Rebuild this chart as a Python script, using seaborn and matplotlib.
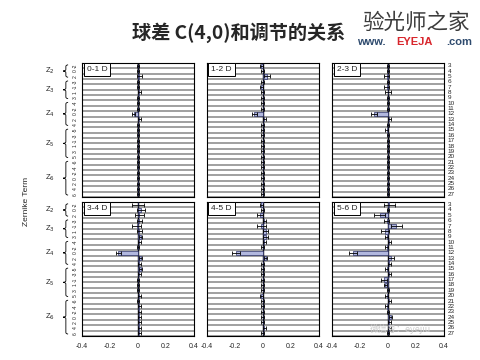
import matplotlib
matplotlib.use('Agg')
import matplotlib.pyplot as plt
from matplotlib.path import Path
from matplotlib.patches import PathPatch
import matplotlib.transforms as mtransforms
import seaborn as sns

# Zernike terms 3..27 (rows top to bottom)
terms = [str(t) for t in range(3, 28)]
m_values = ['-2', '0', '2',
            '-3', '-1', '1', '3',
            '-4', '-2', '0', '2', '4',
            '-5', '-3', '-1', '1', '3', '5',
            '-6', '-4', '-2', '0', '2', '4', '6']
orders = ['2', '3', '4', '5', '6']
order_rows = [(0, 2), (3, 6), (7, 11), (12, 17), (18, 24)]

panel_names = ['0-1 D', '1-2 D', '2-3 D', '3-4 D', '4-5 D', '5-6 D']

vals_01 = [0.00, 0.00, 0.01, 0.00, 0.00, 0.01, 0.00, 0.00, 0.00, -0.03, 0.01, 0.00, 0.00,
           0.00, 0.00, 0.00, 0.00, 0.00, 0.00, 0.00, 0.00, 0.00, 0.00, 0.00, 0.00]
errs_01 = [0.01, 0.01, 0.02, 0.01, 0.01, 0.01, 0.01, 0.01, 0.01, 0.01, 0.01, 0.01, 0.01,
           0.01, 0.01, 0.01, 0.01, 0.01, 0.01, 0.01, 0.01, 0.01, 0.01, 0.01, 0.01]
vals_12 = [-0.01, 0.00, 0.03, 0.00, -0.01, 0.00, 0.00, 0.00, 0.00, -0.06, 0.01, 0.00, 0.00,
           0.00, 0.00, 0.00, 0.00, 0.00, 0.00, 0.00, 0.00, 0.00, 0.00, 0.00, 0.00]
errs_12 = [0.01, 0.01, 0.02, 0.01, 0.01, 0.01, 0.01, 0.01, 0.01, 0.02, 0.01, 0.01, 0.01,
           0.01, 0.01, 0.01, 0.01, 0.01, 0.01, 0.01, 0.01, 0.01, 0.01, 0.01, 0.01]
vals_23 = [0.00, 0.00, -0.01, 0.00, -0.01, 0.00, 0.00, 0.00, 0.00, -0.10, 0.01, 0.00, -0.01,
           0.00, 0.00, 0.00, 0.00, 0.00, 0.00, 0.00, 0.00, 0.00, 0.00, 0.00, 0.00]
errs_23 = [0.01, 0.01, 0.02, 0.01, 0.02, 0.02, 0.01, 0.01, 0.01, 0.02, 0.01, 0.01, 0.01,
           0.01, 0.01, 0.01, 0.01, 0.01, 0.01, 0.01, 0.01, 0.01, 0.01, 0.01, 0.01]
vals_34 = [0.00, 0.02, 0.01, 0.01, -0.01, 0.01, 0.02, 0.01, 0.00, -0.14, 0.02, 0.01, 0.02,
           0.01, 0.00, 0.00, 0.00, 0.01, 0.00, 0.01, 0.01, 0.01, 0.01, 0.01, 0.01]
errs_34 = [0.04, 0.03, 0.035, 0.02, 0.03, 0.02, 0.01, 0.01, 0.01, 0.02, 0.01, 0.01, 0.01,
           0.01, 0.01, 0.01, 0.01, 0.01, 0.01, 0.01, 0.01, 0.01, 0.01, 0.01, 0.01]
vals_45 = [-0.01, 0.00, -0.02, 0.01, -0.01, 0.02, 0.02, 0.01, 0.00, -0.19, 0.02, 0.00, 0.00,
           0.00, 0.00, 0.00, 0.00, -0.01, 0.00, 0.00, 0.00, 0.00, 0.00, 0.01, 0.00]
errs_45 = [0.01, 0.01, 0.02, 0.01, 0.03, 0.02, 0.02, 0.01, 0.01, 0.03, 0.01, 0.01, 0.01,
           0.01, 0.01, 0.01, 0.01, 0.01, 0.01, 0.01, 0.01, 0.01, 0.01, 0.01, 0.01]
vals_56 = [0.01, 0.00, -0.06, -0.01, 0.06, -0.02, -0.01, 0.01, -0.01, -0.25, 0.02, 0.01, -0.01,
           0.01, -0.03, -0.02, 0.00, -0.01, 0.01, -0.01, 0.00, 0.02, 0.01, 0.01, 0.00]
errs_56 = [0.04, 0.01, 0.04, 0.02, 0.04, 0.03, 0.01, 0.01, 0.01, 0.03, 0.02, 0.01, 0.01,
           0.01, 0.02, 0.01, 0.01, 0.01, 0.01, 0.01, 0.01, 0.01, 0.01, 0.01, 0.01]

all_vals = [vals_01, vals_12, vals_23, vals_34, vals_45, vals_56]
all_errs = [errs_01, errs_12, errs_23, errs_34, errs_45, errs_56]

sns.set_style('white')
plt.rcParams['font.family'] = ['Liberation Sans', 'Noto Sans CJK SC', 'DejaVu Sans']

fig = plt.figure(figsize=(4.8, 3.6), dpi=100)

lefts = [0.171, 0.431, 0.692]
bottoms = [0.453, 0.067]
w, h = 0.233, 0.372

bar_color = '#aab3e6'
edge_color = '#2a2f66'


def draw_brace(ax, y0, y1):
    trans = mtransforms.blended_transform_factory(ax.transAxes, ax.transData)
    xr, xm, xl = -0.125, -0.145, -0.17
    ym = (y0 + y1) / 2.0
    d = 0.3
    verts = [(xr, y0), (xm, y0), (xm, y0 + d),
             (xm, ym - d), (xm, ym), (xl, ym),
             (xm, ym), (xm, ym + d),
             (xm, y1 - d), (xm, y1), (xr, y1)]
    codes = [Path.MOVETO, Path.CURVE3, Path.CURVE3,
             Path.LINETO, Path.CURVE3, Path.CURVE3,
             Path.CURVE3, Path.CURVE3,
             Path.LINETO, Path.CURVE3, Path.CURVE3]
    patch = PathPatch(Path(verts, codes), transform=trans, fill=False,
                      lw=0.6, color='black', clip_on=False)
    ax.add_patch(patch)


axes = []
for i in range(6):
    row, col = divmod(i, 3)
    ax = fig.add_axes([lefts[col], bottoms[row], w, h])
    axes.append(ax)
    sns.barplot(x=all_vals[i], y=terms, orient='h', color=bar_color,
                edgecolor=edge_color, linewidth=0.5, width=0.8,
                errorbar=None, ax=ax, zorder=3)
    ax.errorbar(all_vals[i], range(len(terms)), xerr=all_errs[i], fmt='none',
                ecolor='black', elinewidth=0.6, capsize=1.2, capthick=0.6, zorder=4)
    for k in range(len(terms) + 1):
        ax.axhline(k - 0.5, color='#999999', lw=1.3, zorder=1)
    ax.axvline(0, color='black', lw=1.0, zorder=2)
    ax.set_xlim(-0.4, 0.4)
    ax.set_ylim(len(terms) - 0.5, -0.5)
    ax.set_yticks([])
    ax.set_ylabel('')
    ax.set_xlabel('')
    for s in ax.spines.values():
        s.set_color('black')
        s.set_linewidth(0.8)
    ax.text(0.04, 0.975, panel_names[i], transform=ax.transAxes, ha='left', va='top',
            fontsize=6, zorder=5,
            bbox=dict(boxstyle='square,pad=0.35', fc='white', ec='black', lw=0.7))
    if row == 1:
        ax.set_xticks([-0.4, -0.2, 0, 0.2, 0.4])
        ax.set_xticklabels(['-0.4', '-0.2', '0', '0.2', '0.4'])
        ax.tick_params(axis='x', labelsize=5, length=0, pad=5)
    else:
        ax.set_xticks([])

    if col == 0:
        trans = mtransforms.blended_transform_factory(ax.transAxes, ax.transData)
        for k, m in enumerate(m_values):
            ax.text(-0.06, k, m, transform=trans, rotation=90, fontsize=3.6,
                    ha='center', va='center', clip_on=False)
        for order, (r0, r1) in zip(orders, order_rows):
            draw_brace(ax, r0 - 0.15, r1 + 0.15)
            ax.text(-0.29, (r0 + r1) / 2.0, 'Z$_{' + order + '}$', transform=trans,
                    fontsize=5.5, ha='center', va='center', clip_on=False)
    if col == 2:
        trans = mtransforms.blended_transform_factory(ax.transAxes, ax.transData)
        for k, t in enumerate(terms):
            ax.text(1.035, k, t, transform=trans, fontsize=4.6,
                    ha='left', va='center', clip_on=False)

fig.text(0.055, 0.44, 'Zernike Term', rotation=90, fontsize=6, ha='center', va='center')

fig.text(0.497, 0.908, '球差 C(4,0)和调节的关系', fontsize=13.8, fontweight='bold',
         ha='center', va='center', family=['Noto Sans CJK SC', 'DejaVu Sans'])
fig.text(0.867, 0.937, '验光师之家', fontsize=15.5, color='#3c3c3c',
         ha='center', va='center', family=['Noto Sans CJK SC', 'DejaVu Sans'])
fig.text(0.744, 0.882, 'www.', fontsize=8, color='#2f4b6e', fontweight='bold', ha='left', va='center')
fig.text(0.825, 0.882, 'EYEJA', fontsize=8, color='#d8262c', fontweight='bold', ha='left', va='center')
fig.text(0.929, 0.882, '.com', fontsize=8, color='#2f4b6e', fontweight='bold', ha='left', va='center')
fig.text(0.835, 0.085, '微信号：eyejiu', fontsize=6.5, color='#cfcfcf', ha='center', va='center',
         family=['Noto Sans CJK SC', 'DejaVu Sans'])

fig.savefig('out.png', dpi=100)
